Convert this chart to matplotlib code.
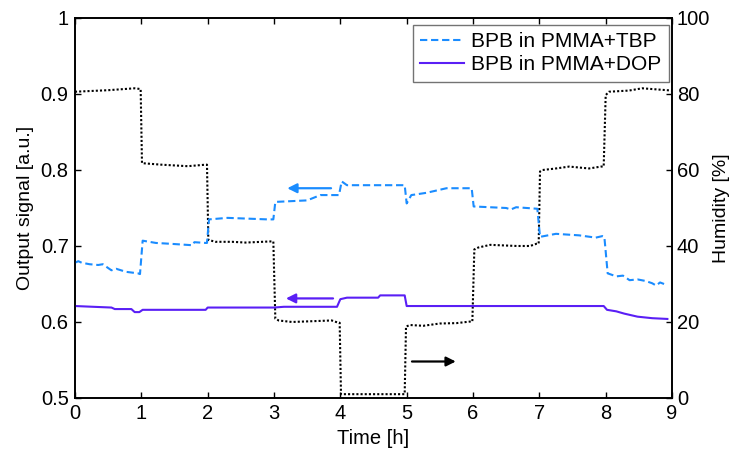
import matplotlib
matplotlib.use('Agg')
import matplotlib.pyplot as plt
import numpy as np

plt.rcParams['font.family'] = ['Liberation Sans', 'DejaVu Sans']
plt.rcParams['font.size'] = 14

# BPB in PMMA+TBP, output signal [a.u.]
t_tbp = [0.0, 0.05, 0.1, 0.22, 0.35, 0.42, 0.5, 0.55, 0.62, 0.77, 0.95, 0.98,
         1.02, 1.22, 1.42, 1.77, 1.8, 1.97, 1.99,
         2.02, 2.3, 2.9, 2.99,
         3.02, 3.5, 3.7, 3.98,
         4.02, 4.1, 4.97,
         5.0, 5.07, 5.15, 5.3, 5.6, 5.98,
         6.01, 6.5, 6.57, 6.65, 6.97,
         7.01, 7.25, 7.6, 7.85, 7.95, 7.98,
         8.03, 8.16, 8.26, 8.36, 8.48, 8.6, 8.7, 8.76, 8.82, 8.88]
v_tbp = [0.678, 0.680, 0.678, 0.676, 0.675, 0.676, 0.671, 0.668, 0.670, 0.666, 0.664, 0.663,
         0.707, 0.704, 0.703, 0.701, 0.705, 0.704, 0.704,
         0.735, 0.737, 0.735, 0.735,
         0.758, 0.760, 0.767, 0.767,
         0.785, 0.780, 0.780,
         0.756, 0.767, 0.768, 0.770, 0.776, 0.776,
         0.752, 0.750, 0.748, 0.751, 0.749,
         0.712, 0.716, 0.714, 0.711, 0.713, 0.712,
         0.664, 0.660, 0.661, 0.655, 0.656, 0.654, 0.651, 0.648, 0.652, 0.650]

# BPB in PMMA+DOP, output signal [a.u.]
t_dop = [0.0, 0.27, 0.55, 0.6, 0.85, 0.9, 0.97, 1.02, 1.97, 2.0,
         3.0, 3.15, 3.95, 4.0, 4.05, 4.1, 4.57, 4.6, 4.97,
         5.0, 7.97, 8.02, 8.16, 8.28, 8.48, 8.7, 8.93]
v_dop = [0.621, 0.620, 0.619, 0.617, 0.617, 0.613, 0.613, 0.616, 0.616, 0.619,
         0.619, 0.620, 0.620, 0.630, 0.631, 0.632, 0.632, 0.635, 0.635,
         0.621, 0.621, 0.616, 0.614, 0.611, 0.607, 0.605, 0.604]

# reference humidity [%]
t_hum = [0.0, 0.5, 0.9, 0.99,
         1.01, 1.3, 1.7, 1.97, 1.99,
         2.01, 2.12, 2.37, 2.57, 2.95, 2.99,
         3.02, 3.07, 3.27, 3.57, 3.87, 3.97, 3.99,
         4.01, 4.97,
         4.99, 5.05, 5.25, 5.5, 5.75, 5.95, 5.99,
         6.02, 6.08, 6.26, 6.66, 6.86, 6.96, 6.99,
         7.01, 7.05, 7.25, 7.45, 7.75, 7.93, 7.97,
         8.0, 8.05, 8.35, 8.55, 8.85, 9.0]
v_hum = [80.6, 81.0, 81.5, 81.3,
         61.8, 61.4, 61.0, 61.4, 61.4,
         41.6, 41.1, 41.1, 40.9, 41.2, 41.2,
         20.9, 20.4, 20.0, 20.2, 20.4, 19.8, 19.8,
         1.0, 1.0,
         18.8, 19.2, 19.0, 19.6, 19.7, 20.1, 20.1,
         39.1, 39.6, 40.3, 40.0, 40.0, 40.6, 40.6,
         59.6, 60.0, 60.4, 60.9, 60.4, 60.9, 60.9,
         79.7, 80.6, 80.9, 81.5, 81.1, 80.9]

tbp_color = '#1a8cff'
dop_color = '#5a1ff5'

fig = plt.figure(figsize=(7.38, 4.5), dpi=100)
ax = fig.add_axes([0.1016, 0.1156, 0.809, 0.8444])
ax2 = ax.twinx()

l1, = ax.plot(t_tbp, v_tbp, color=tbp_color, lw=1.5, linestyle=(0, (3.5, 1.8)),
              label='BPB in PMMA+TBP')
l2, = ax.plot(t_dop, v_dop, color=dop_color, lw=1.5, label='BPB in PMMA+DOP')
ax2.plot(t_hum, v_hum, color='black', lw=1.5, linestyle=(0, (1, 1)))

ax.set_xlim(0, 9)
ax.set_ylim(0.5, 1)
ax2.set_ylim(0, 100)
ax.set_xticks(range(10))
ax.set_yticks([0.5, 0.6, 0.7, 0.8, 0.9, 1.0])
ax.set_yticklabels(['0.5', '0.6', '0.7', '0.8', '0.9', '1'])
ax2.set_yticks([0, 20, 40, 60, 80, 100])

ax.tick_params(direction='in', length=4, width=1, pad=4.5, top=True, labelsize=14.5)
ax2.tick_params(direction='in', length=4, width=1, pad=3.5, labelsize=14.5)
for a in (ax, ax2):
    for s in a.spines.values():
        s.set_linewidth(1.2)

ax.set_xlabel('Time [h]', fontsize=14.5, labelpad=4)
ax.set_ylabel('Output signal [a.u.]', fontsize=14, labelpad=5)
ax2.set_ylabel('Humidity [%]', fontsize=14, labelpad=2)

# arrows pointing at the axis each curve belongs to
arrow = dict(arrowstyle='-|>', lw=1.6, mutation_scale=14, shrinkA=0, shrinkB=0)
ax.annotate('', xy=(3.2, 0.776), xytext=(3.86, 0.776),
            arrowprops=dict(arrow, color=tbp_color))
ax.annotate('', xy=(3.18, 0.631), xytext=(3.89, 0.631),
            arrowprops=dict(arrow, color=dop_color))
ax.annotate('', xy=(5.74, 0.548), xytext=(5.08, 0.548),
            arrowprops=dict(arrow, color='black'))

leg = ax.legend(handles=[l1, l2], loc='upper right', bbox_to_anchor=(0.995, 0.982),
                borderaxespad=0, fancybox=False, framealpha=1, edgecolor='0.45',
                handlelength=2.1, handletextpad=0.35, labelspacing=0.2,
                borderpad=0.35, fontsize=15)
leg.get_frame().set_linewidth(1.0)
ax.set_zorder(ax2.get_zorder() + 1)
ax.patch.set_visible(False)

fig.savefig('out.png', dpi=100)
